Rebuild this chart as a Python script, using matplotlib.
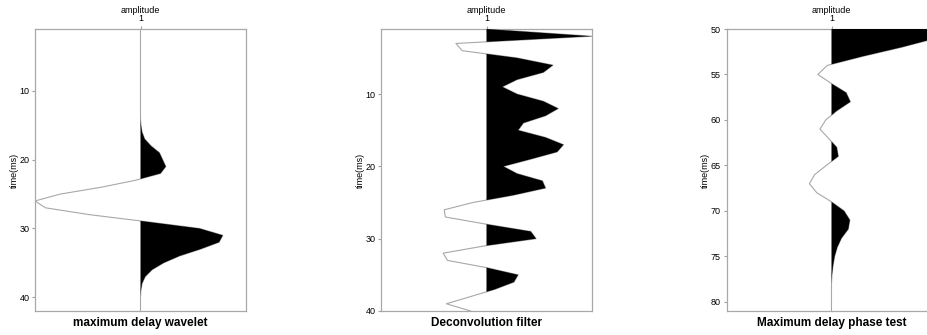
import numpy as np
import matplotlib
matplotlib.use("Agg")
import matplotlib.pyplot as plt

plt.rcParams['font.family'] = ['Liberation Sans', 'DejaVu Sans']

# trace 1: maximum delay wavelet, samples 1..42 ms
t_wavelet = list(range(1, 43))
amp_wavelet = [0, 0, 0, 0, 0, 0, 0, 0, 0, 0, 0, 0, 0,
               0, 0.005, 0.015, 0.04, 0.10, 0.18, 0.21, 0.24, 0.19,
               -0.05, -0.37, -0.76, -1.0, -0.90, -0.48,
               0.05, 0.56, 0.78, 0.745, 0.57, 0.37, 0.22, 0.11, 0.045, 0.015, 0.004,
               0, 0, 0]

# trace 2: deconvolution filter, samples 1..40 ms
t_filter = list(range(1, 41))
amp_filter = [0, 1.0, -0.29, -0.23, 0.29, 0.63, 0.54, 0.29, 0.15, 0.29,
              0.54, 0.68, 0.56, 0.35, 0.30, 0.56, 0.73, 0.67, 0.42, 0.16,
              0.29, 0.53, 0.56, 0.25, -0.13, -0.40, -0.39, 0.0, 0.42, 0.47,
              -0.02, -0.41, -0.37, 0.0, 0.30, 0.26, 0.08, -0.15, -0.38, -0.15]

# trace 3: maximum delay phase test, samples 50..81 ms
t_test = list(range(50, 82))
amp_test = [0.95, 1.0, 0.67, 0.30, -0.04, -0.13, 0.0, 0.14, 0.18, 0.05,
            -0.055, -0.11, -0.03, 0.05, 0.065, -0.05, -0.16, -0.21, -0.14, 0.0,
            0.12, 0.175, 0.16, 0.095, 0.055, 0.03, 0.015, 0.005, 0, 0, 0, 0]

panels = [
    (t_wavelet, amp_wavelet, (42, 1), [10, 20, 30, 40], "maximum delay wavelet"),
    (t_filter, amp_filter, (40, 1), [10, 20, 30, 40], "Deconvolution filter"),
    (t_test, amp_test, (81, 50), [50, 55, 60, 65, 70, 75, 80], "Maximum delay phase test"),
]

# axes boxes in pixels (left, right) of a 927x335 figure
W, H = 927, 335
boxes = [(35, 246), (381, 592), (726.5, 936.5)]
top_px, bot_px = 29, 311

fig = plt.figure(figsize=(W / 100, H / 100), dpi=100)

for (t, amp, ylim, yticks, title), (x0, x1) in zip(panels, boxes):
    ax = fig.add_axes([x0 / W, (H - bot_px) / H, (x1 - x0) / W, (bot_px - top_px) / H])
    t = np.array(t, dtype=float)
    x = 1 + np.array(amp)
    ax.plot(x, t, color='#a8a8a8', lw=0.8, zorder=2)
    ax.fill_betweenx(t, 1, x, where=x > 1, interpolate=True, color='black', lw=0, zorder=3)

    ax.set_xlim(0, 2)
    ax.set_ylim(*ylim)
    ax.set_yticks(yticks)
    ax.xaxis.tick_top()
    ax.xaxis.set_label_position('top')
    ax.set_xticks([1])
    ax.set_xticklabels(['1'])
    ax.set_xlabel('amplitude', fontsize=6.5, labelpad=1)
    ax.set_ylabel('time(ms)', fontsize=6.5, labelpad=0.5)
    ax.tick_params(axis='both', labelsize=6.5, length=2.5, width=0.8, color='#a0a0a0', pad=1.5)
    for s in ax.spines.values():
        s.set_color('#a8a8a8')
        s.set_linewidth(0.9)
    ax.text(0.5, -0.02, title, transform=ax.transAxes, ha='center', va='top',
            fontsize=8.5, fontweight='bold')

fig.savefig('out.png', dpi=100)
